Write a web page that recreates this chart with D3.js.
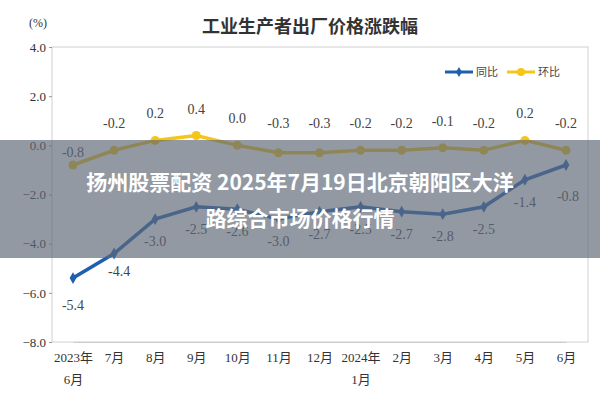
<!DOCTYPE html><html><head><meta charset="utf-8"><script src="https://cdn.jsdelivr.net/npm/d3@7"></script>
<style>body{margin:0;background:#fff}</style></head><body><svg width="600" height="400"></svg>
<script>
const categories=["2023年\n6月","7月","8月","9月","10月","11月","12月","2024年\n1月","2月","3月","4月","5月","6月"];
const yoy=[-5.4,-4.4,-3.0,-2.5,-2.6,-3.0,-2.7,-2.5,-2.7,-2.8,-2.5,-1.4,-0.8];
const mom=[-0.8,-0.2,0.2,0.4,0.0,-0.3,-0.3,-0.2,-0.2,-0.1,-0.2,0.2,-0.2];
const yTicks=[4,2,0,-2,-4,-6,-8];
const svg=d3.select("svg");
const serif="'Liberation Serif','Noto Sans CJK SC',serif";
const x=d3.scalePoint().domain(d3.range(categories.length)).range([73,566]);
const y=d3.scaleLinear().domain([-8,4]).range([342,47]);
svg.append("rect").attr("x",52).attr("y",47).attr("width",536).attr("height",295).attr("fill","#fff").attr("stroke","#d0d0d0");
const ya=svg.append("g").attr("transform","translate(52,0)").call(d3.axisLeft(y).tickValues(yTicks).tickFormat(d3.format(".1f")).tickSize(3));
ya.select(".domain").remove();ya.selectAll("line").attr("stroke","#999");
ya.selectAll("text").attr("font-family",serif).attr("font-size",13).attr("fill","#333");
const xa=svg.append("g").attr("transform","translate(0,342)").call(d3.axisBottom(x).tickSize(0).tickFormat(""));
xa.select(".domain").attr("stroke","#ccc");
xa.selectAll(".tick").each(function(d){const t=d3.select(this).append("text").attr("fill","#333").attr("font-family",serif).attr("font-size",13).attr("text-anchor","middle");
categories[d].split("\n").forEach((s,i)=>t.append("tspan").attr("x",0).attr("y",20+i*22).text(s));});
svg.append("text").attr("x",38).attr("y",27).attr("text-anchor","middle").attr("font-family",serif).attr("font-size",12).attr("fill","#333").text("(%)");
svg.append("text").attr("x",310).attr("y",33).attr("text-anchor","middle").attr("font-family","'Noto Sans CJK SC'").attr("font-size",18).attr("font-weight","bold").attr("fill","#333").text("工业生产者出厂价格涨跌幅");
const line=d3.line().x((d,i)=>x(i)).y(d=>y(d));
svg.append("path").datum(mom).attr("d",line).attr("fill","none").attr("stroke","#f5c518").attr("stroke-width",3.5);
svg.append("path").datum(yoy).attr("d",line).attr("fill","none").attr("stroke","#1f5fae").attr("stroke-width",3.5);
svg.selectAll(".mp").data(mom).join("circle").attr("cx",(d,i)=>x(i)).attr("cy",d=>y(d)).attr("r",4.5).attr("fill","#f5c518");
svg.selectAll(".yp").data(yoy).join("path").attr("transform",(d,i)=>`translate(${x(i)},${y(d)})`).attr("d",d3.symbol(d3.symbolDiamond,40)).attr("fill","#1f5fae");
svg.selectAll(".ml").data(mom).join("text").attr("x",(d,i)=>x(i)).attr("y",(d,i)=>i==0?y(d)-8:Math.min(y(d)-22,128)).attr("text-anchor","middle").attr("font-family",serif).attr("font-size",14).attr("fill","#444").text(d=>d.toFixed(1));
svg.selectAll(".yl").data(yoy).join("text").attr("x",(d,i)=>x(i)+(i==1?5:i==12?2:0)).attr("y",(d,i)=>y(d)+(i==0?32:i==1?22:i==12?36:27)).attr("text-anchor","middle").attr("font-family",serif).attr("font-size",14).attr("fill","#444").text(d=>d.toFixed(1));
// legend
const lg=svg.append("g").attr("transform","translate(445,72)");
lg.append("line").attr("x1",0).attr("x2",28).attr("stroke","#1f5fae").attr("stroke-width",3);
lg.append("path").attr("transform","translate(14,0)").attr("d",d3.symbol(d3.symbolDiamond,30)).attr("fill","#1f5fae");
lg.append("text").attr("x",31).attr("y",4).attr("font-size",11).attr("font-family",serif).attr("fill","#444").text("同比");
lg.append("line").attr("x1",62).attr("x2",90).attr("stroke","#f5c518").attr("stroke-width",3);
lg.append("circle").attr("cx",76).attr("r",4).attr("fill","#f5c518");
lg.append("text").attr("x",93).attr("y",4).attr("font-size",11).attr("font-family",serif).attr("fill","#444").text("环比");
// overlay
svg.append("rect").attr("x",0).attr("y",140).attr("width",600).attr("height",118).attr("fill","rgb(95,105,120)").attr("opacity",0.68);
const ov=svg.append("text").attr("text-anchor","middle").attr("font-family","'Noto Sans CJK SC'").attr("font-size",21).attr("font-weight","bold").attr("fill","#fff");
ov.append("tspan").attr("x",300).attr("y",190).text("扬州股票配资 2025年7月19日北京朝阳区大洋");
ov.append("tspan").attr("x",300).attr("y",226).text("路综合市场价格行情");
</script></body></html>
